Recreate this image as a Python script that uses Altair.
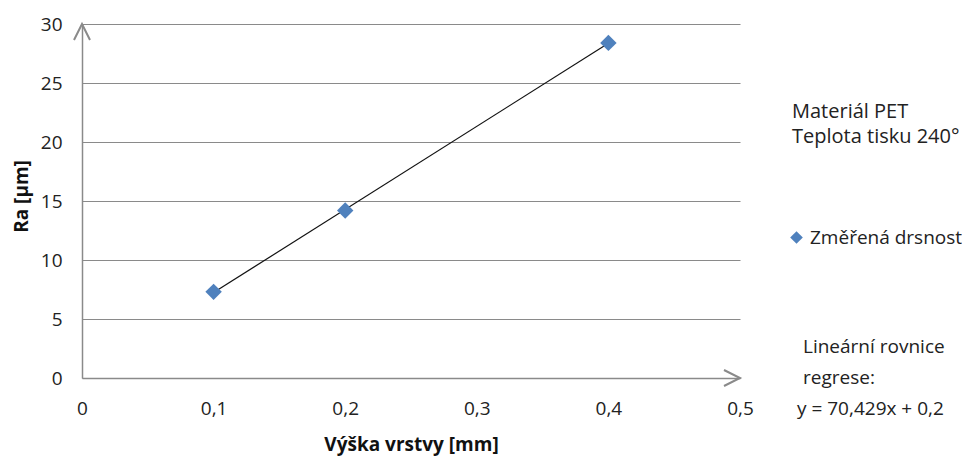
import altair as alt
import pandas as pd

# data
layer_height = [0.1, 0.2, 0.4]
roughness = [7.3, 14.2, 28.4]
series_name = "Změřená drsnost"
x_ticks = [0, 0.1, 0.2, 0.3, 0.4, 0.5]
y_ticks = [0, 5, 10, 15, 20, 25, 30]
info_lines = ["Materiál PET", "Teplota tisku 240°"]
eq_lines = ["Lineární rovnice", "regrese:"]
eq_text = "y = 70,429x + 0,2"

df = pd.DataFrame({"x": layer_height, "y": roughness, "s": [series_name] * len(layer_height)})

FONT = "Open Sans"
GRAY = "#8a8a8a"

xscale = alt.Scale(domain=[0, 0.5], nice=False)
yscale = alt.Scale(domain=[0, 30], nice=False)

xaxis = alt.Axis(values=x_ticks, labelExpr="replace(format(datum.value, '.1~f'), '.', ',')",
                 title="Výška vrstvy [mm]", grid=False, ticks=False, domain=True, labelFlush=False,
                 domainColor=GRAY, domainWidth=1.5, labelFont=FONT, labelFontSize=19,
                 labelColor="#222", labelPadding=21, titleFont=FONT, titleFontSize=19,
                 titleFontWeight="bold", titleColor="#111", titleY=72,
                 titleBaseline="alphabetic")
yaxis = alt.Axis(values=y_ticks, title="Ra [µm]", grid=True, gridColor=GRAY, gridWidth=1.2,
                 ticks=False, domain=True, domainColor=GRAY, domainWidth=1.5, labelFlush=False,
                 labelFont=FONT, labelFontSize=19, labelColor="#222", labelPadding=20,
                 titleFont=FONT, titleFontSize=19, titleFontWeight="bold", titleColor="#111",
                 titleX=-61, titleY=172, titleAlign="center", titleBaseline="middle")

base = alt.Chart(df)

reg = base.transform_regression("x", "y", method="linear").mark_line(
    color="#111", strokeWidth=1.2
).encode(x=alt.X("x:Q", scale=xscale, axis=xaxis), y=alt.Y("y:Q", scale=yscale, axis=yaxis))

pts = base.mark_point(shape="diamond", filled=True, size=270, opacity=1).encode(
    x=alt.X("x:Q", scale=xscale),
    y=alt.Y("y:Q", scale=yscale),
    color=alt.Color("s:N", scale=alt.Scale(domain=[series_name], range=["#4F81BD"]),
                    legend=alt.Legend(title=None, orient="none", legendX=705, legendY=204,
                                      symbolType="diamond", symbolSize=160, symbolStrokeWidth=0,
                                      labelFont=FONT, labelFontSize=19, labelColor="#222",
                                      labelOffset=4, padding=0)),
)

arrow_df = pd.DataFrame({"x": [0, 0.5], "y": [30, 0], "a": [0, 90]})
arrows = alt.Chart(arrow_df).mark_point(
    shape="M-0.5,1L0,0L0.5,1", filled=False, size=1024, stroke=GRAY, strokeWidth=2, opacity=1
).encode(x=alt.X("x:Q", scale=xscale), y=alt.Y("y:Q", scale=yscale), angle=alt.Angle("a:Q", scale=None))

info = alt.Chart(pd.DataFrame({"t": [info_lines]})).mark_text(
    align="left", baseline="middle", font=FONT, fontSize=20, color="#222", lineHeight=25
).encode(text="t", x=alt.value(710), y=alt.value(88))
eq1 = alt.Chart(pd.DataFrame({"t": [eq_lines]})).mark_text(
    align="left", baseline="middle", font=FONT, fontSize=19, color="#222", lineHeight=31
).encode(text="t", x=alt.value(721), y=alt.value(323))
eq2 = alt.Chart(pd.DataFrame({"t": [eq_text]})).mark_text(
    align="left", baseline="middle", font=FONT, fontSize=19, color="#222"
).encode(text="t", x=alt.value(715), y=alt.value(385))

chart = alt.layer(reg, pts, arrows, info, eq1, eq2).properties(
    width=658, height=354,
    autosize=alt.AutoSizeParams(type="none"),
    padding={"left": 74, "top": 16, "right": 222, "bottom": 78},
).configure(background="white", view=alt.ViewConfig(stroke=None))

chart.save("out.html", embed_options={"renderer": "svg", "actions": False})
